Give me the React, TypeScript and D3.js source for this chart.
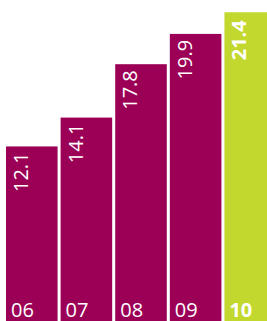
import React from "react";
import * as d3 from "d3";

const categories = ["06", "07", "08", "09", "10"];
const values = [12.1, 14.1, 17.8, 19.9, 21.4];
const highlight = [false, false, false, false, true];

const W = 267;
const H = 321;

export default function App() {
  const x = d3.scaleBand<string>().domain(categories).range([6, 6 + 54 * 5]).paddingInner(3 / 54).paddingOuter(0);
  const y = d3.scaleLinear().domain([0, 22.25]).range([H, 0]);
  return (
    <svg width={W} height={H} style={{ position: "absolute", left: 0, top: 0, display: "block" }}>
      {categories.map((c, i) => {
        const x0 = x(c)!;
        const yt = y(values[i]);
        const hl = highlight[i];
        return (
          <g key={c}>
            <rect x={x0} y={yt} width={x.bandwidth()} height={H - yt} fill={hl ? "#c3d82f" : "#9c0056"} />
            <text
              transform={`translate(${x0 + 22},${yt + (hl ? 8 : 6)}) rotate(-90)`}
              textAnchor="end"
              fill="#fff"
              fontFamily="'Open Sans', sans-serif"
              fontSize={20}
              fontWeight={hl ? 700 : 400}
            >
              {values[i].toFixed(1)}
            </text>
            <text
              x={x0 + 5}
              y={317}
              fill="#fff"
              fontFamily="'Open Sans', sans-serif"
              fontSize={20}
              fontWeight={hl ? 700 : 400}
            >
              {c}
            </text>
          </g>
        );
      })}
    </svg>
  );
}
